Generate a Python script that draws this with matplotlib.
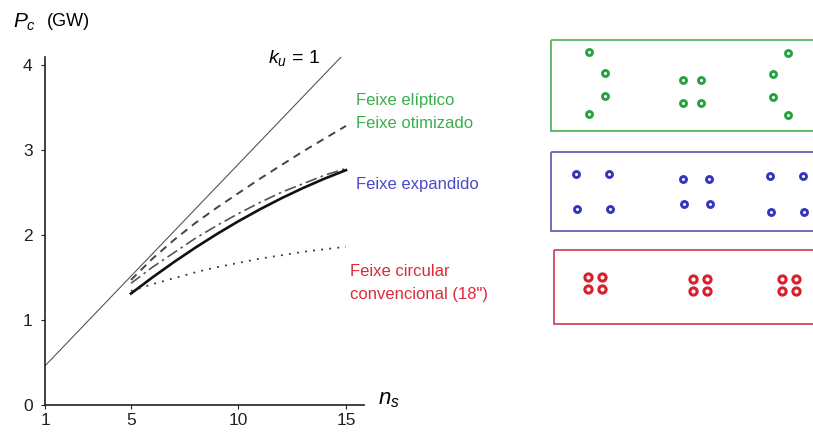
import matplotlib
matplotlib.use("Agg")
import matplotlib.pyplot as plt
from matplotlib.patches import Rectangle

plt.rcParams['font.family'] = ['Liberation Sans', 'DejaVu Sans']
plt.rcParams['mathtext.fontset'] = 'custom'
plt.rcParams['mathtext.it'] = 'Liberation Sans:italic'
plt.rcParams['mathtext.rm'] = 'Liberation Sans'

# curves, P_c (GW) against n_s
ku_x = [1, 15]
ku_y = [0.46, 4.15]

ns = [5, 6, 7, 8, 9, 10, 11, 12, 13, 14, 15]
eliptico = [1.47, 1.72, 1.94, 2.14, 2.32, 2.49, 2.66, 2.82, 2.98, 3.13, 3.28]
expandido = [1.43, 1.62, 1.79, 1.96, 2.11, 2.25, 2.38, 2.50, 2.60, 2.70, 2.78]
solido = [1.31, 1.50, 1.68, 1.85, 2.01, 2.16, 2.30, 2.43, 2.55, 2.66, 2.76]
circular = [1.34, 1.42, 1.49, 1.56, 1.62, 1.67, 1.72, 1.76, 1.80, 1.83, 1.86]

xticks = [1, 5, 10, 15]
yticks = [0, 1, 2, 3, 4]

# beam layouts on the right (pixel coords)
verde_x = [589, 605, 605, 589, 683, 701, 683, 701, 788, 773, 773, 788]
verde_y = [52, 73, 96, 114, 80, 80, 103, 103, 53, 74, 97, 115]
azul_x = [576, 609, 577, 610, 683, 709, 684, 710, 770, 803, 771, 804]
azul_y = [174, 174, 209, 209, 179, 179, 204, 204, 176, 176, 212, 212]
verm_x = [588, 602, 588, 602, 693, 707, 693, 707, 782, 796, 782, 796]
verm_y = [277, 277, 289, 289, 279, 279, 291, 291, 279, 279, 291, 291]

verde = '#27a23e'
azul = '#3434bc'
vermelho = '#d8202c'

W, H = 813, 432
fig = plt.figure(figsize=(W / 100, H / 100), dpi=100)

ax = fig.add_axes([45 / W, 27 / H, 319 / W, 348 / H])
ax.plot(ku_x, ku_y, color='#555555', lw=0.8)
ax.plot(ns, eliptico, color='#444444', lw=1.4, ls=(0, (4, 3)))
ax.plot(ns, expandido, color='#555555', lw=1.2, ls=(0, (7, 2.5, 1.5, 2.5)))
ax.plot(ns, solido, color='#111111', lw=1.9)
ax.plot(ns, circular, color='#333333', lw=1.3, ls=(0, (1, 3.5)))

ax.set_xlim(1, 15.84)
ax.set_ylim(0, 4.09)
ax.set_xticks(xticks)
ax.set_yticks(yticks)
for s in ['top', 'right']:
    ax.spines[s].set_visible(False)
for s in ['left', 'bottom']:
    ax.spines[s].set_color('#222222')
    ax.spines[s].set_linewidth(1.2)
ax.tick_params(direction='out', length=3, width=0.8, colors='#222222',
               labelsize=12.5, labelcolor='#222222')
ax.tick_params(axis='x', pad=3)
ax.tick_params(axis='y', pad=6)
ax.set_facecolor('none')

fig.text(13 / W, 1 - 22 / H, r'$P_c$', fontsize=15, va='center', ha='left')
fig.text(47 / W, 1 - 22 / H, '(GW)', fontsize=13, va='center', ha='left')
fig.text(268 / W, 1 - 58 / H, r'$k_u$ = 1', fontsize=14, va='center', ha='left')
fig.text(378 / W, 1 - 400 / H, r'$n_s$', fontsize=16, va='center', ha='left')

fig.text(356 / W, 1 - 101 / H, 'Feixe elíptico', color='#3aae4f', fontsize=12, va='center')
fig.text(356 / W, 1 - 124 / H, 'Feixe otimizado', color='#3aae4f', fontsize=12, va='center')
fig.text(356 / W, 1 - 185 / H, 'Feixe expandido', color='#4a4ac8', fontsize=12, va='center')
fig.text(350 / W, 1 - 272 / H, 'Feixe circular', color='#dd2a3a', fontsize=12, va='center')
fig.text(350 / W, 1 - 295 / H, 'convencional (18")', color='#dd2a3a', fontsize=12, va='center')

# right panel in pixel coordinates
rx = fig.add_axes([0, 0, 1, 1])
rx.set_xlim(0, W)
rx.set_ylim(H, 0)
rx.axis('off')
rx.set_facecolor('none')
rx.add_patch(Rectangle((551, 39.5), 280, 91, fill=False, ec='#55b560', lw=1.3))
rx.add_patch(Rectangle((551, 152), 280, 79, fill=False, ec='#6464b4', lw=1.3))
rx.add_patch(Rectangle((553.5, 249.5), 280, 74, fill=False, ec='#cc4b5c', lw=1.3))

rx.plot(verde_x, verde_y, 'o', ls='none', ms=4.3, mew=2.1, mfc='white', mec=verde)
rx.plot(azul_x, azul_y, 'o', ls='none', ms=4.3, mew=2.1, mfc='white', mec=azul)
rx.plot(verm_x, verm_y, 'o', ls='none', ms=5.2, mew=2.2, mfc='white', mec=vermelho)

fig.savefig('out.png', dpi=100)
